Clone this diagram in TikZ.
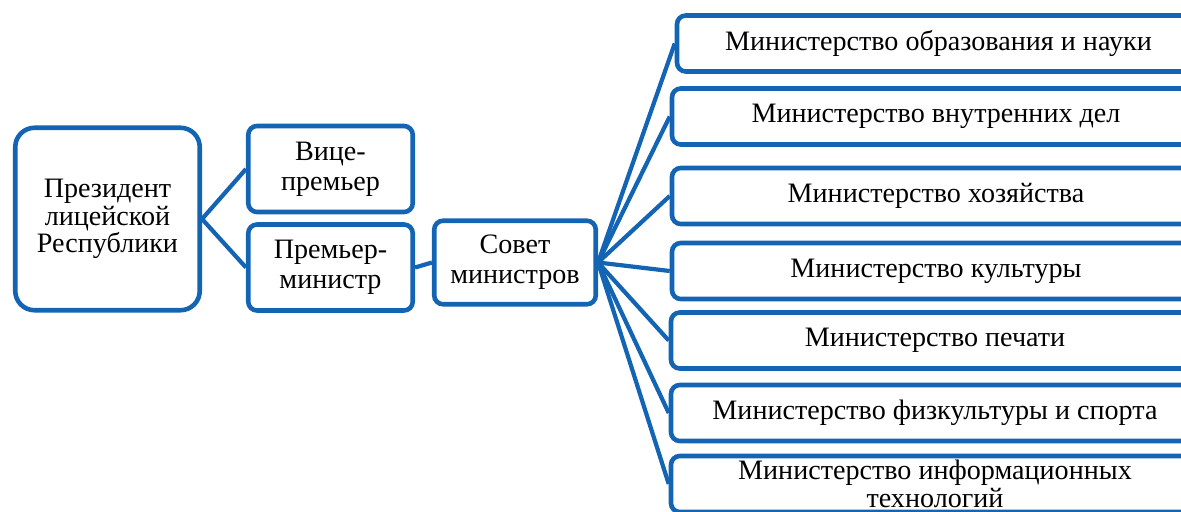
\documentclass[tikz,border=0pt]{standalone}
\usepackage{fontspec}
\setmainfont{Liberation Serif}
\usepackage{tikz}
\usetikzlibrary{positioning}
\usepackage{xcolor}
\definecolor{boxblue}{RGB}{20,100,180}

\begin{document}
\begin{tikzpicture}[
    org/.style={draw=boxblue,line width=2.6pt,rounded corners=5pt,align=center,
                inner sep=1pt,font=\fontsize{16}{15.8}\selectfont},
    big/.style={org,rounded corners=11pt,minimum width=3.69cm,minimum height=3.65cm},
    mid/.style={org,font=\fontsize{16}{17}\selectfont,minimum width=3.29cm,minimum height=1.72cm},
    mins/.style={org,minimum width=10.56cm,minimum height=1.12cm},
    link/.style={draw=boxblue,line width=2.4pt}
]
                            \clip (0,0) rectangle (23.62,-10.22);
                            \node[big] (P) at (2.15,-4.38) {Президент\\лицейской\\Республики};
                            \node[mid] (VP) at (6.61,-3.38) {Вице-\\премьер};
                            \node[mid] (PM) at (6.61,-5.35) {Премьер-\\министр};
                            \node[mid,minimum width=3.23cm,minimum height=1.67cm] (SM) at (10.30,-5.25) {Совет\\министров};
                            \node[mins,minimum width=10.46cm] (M1) at (18.77,-0.87) {Министерство образования и науки};
                            \node[mins] (M2) at (18.72,-2.33) {Министерство внутренних дел};
                            \node[mins] (M3) at (18.72,-3.92) {Министерство хозяйства};
                            \node[mins] (M4) at (18.72,-5.42) {Министерство культуры};
                            \node[mins] (M5) at (18.70,-6.81) {Министерство печати};
                            \node[mins] (M6) at (18.70,-8.26) {Министерство физкультуры и спорта};
                            \node[mins] (M7) at (18.70,-9.68) {Министерство информационных\\технологий};
                            \draw[link] (P.east) -- (VP.west);
                            \draw[link] (P.east) -- (PM.west);
                            \draw[link] (PM.east) -- (SM.west);
                            \draw[link] (SM.east) -- (M1.west);
                            \draw[link] (SM.east) -- (M2.west);
                            \draw[link] (SM.east) -- (M3.west);
                            \draw[link] (SM.east) -- (M4.west);
                            \draw[link] (SM.east) -- (M5.west);
                            \draw[link] (SM.east) -- (M6.west);
                            \draw[link] (SM.east) -- (M7.west);
                        \end{tikzpicture}
\end{document}
